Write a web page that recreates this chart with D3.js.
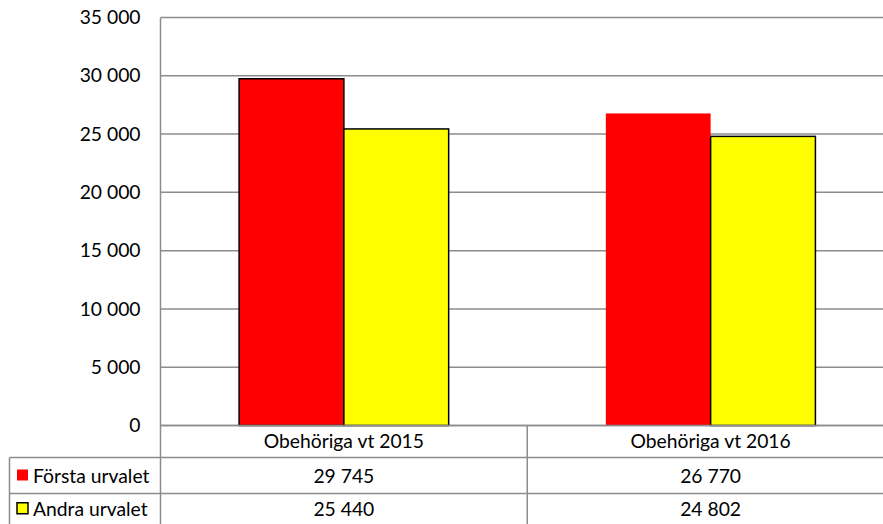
<!DOCTYPE html>
<html>
<head>
<meta charset="utf-8">
<script src="https://cdn.jsdelivr.net/npm/d3@7"></script>
<style>
body { margin:0; background:#fff; }
text { font-family: Lato, "Open Sans", sans-serif; fill:#000; }
</style>
</head>
<body>
<script>
var categories = ["Obehöriga vt 2015", "Obehöriga vt 2016"];
var seriesNames = ["Första urvalet", "Andra urvalet"];
var forsta = [29745, 26770];
var andra = [25440, 24802];
var yTicks = [0, 5000, 10000, 15000, 20000, 25000, 30000, 35000];
var colors = ["#ff0000", "#ffff00"];

var width = 883, height = 524;
var plot = {left:160.5, right:894, top:17.5, bottom:425.5};
var rowY = [425.5, 457.5, 493.5, 524];
var tableLeft = 9.5;
var fs = "19.3px";

var fmt = function(v){ return d3.format(",")(v).replace(/,/g, " "); };

var svg = d3.select("body").append("svg").attr("width", width).attr("height", height);

var y = d3.scaleLinear().domain([0, 35000]).range([plot.bottom, plot.top]);
var x = d3.scaleBand().domain(categories).range([plot.left, plot.right]);
var xs = d3.scaleBand().domain(seriesNames).range([0, x.bandwidth()]).paddingOuter(0.75);

// gridlines
svg.append("g").selectAll("line").data(yTicks).join("line")
  .attr("x1", plot.left).attr("x2", width)
  .attr("y1", function(d){ return y(d); }).attr("y2", function(d){ return y(d); })
  .style("stroke", "#8c8c8c").style("stroke-width", 1.5);

// y axis labels
var yAxis = d3.axisLeft(y).tickValues(yTicks).tickSize(0).tickPadding(20).tickFormat(fmt);
var ya = svg.append("g").attr("transform", "translate(" + plot.left + ",0)").call(yAxis);
ya.select(".domain").remove();
ya.selectAll("text").style("font-size", fs).style("font-family", "Lato, sans-serif");

// bars
var data = [forsta, andra];
data.forEach(function(vals, si){
  svg.append("g").selectAll("rect").data(vals).join("rect")
    .attr("x", function(d, i){ return x(categories[i]) + xs(seriesNames[si]); })
    .attr("width", xs.bandwidth())
    .attr("y", function(d){ return y(d); })
    .attr("height", function(d){ return y(0) - y(d); })
    .style("fill", colors[si])
    .style("stroke", function(d, i){ return (si == 0 && i == 1) ? "none" : "#000"; })
    .style("stroke-width", 1.5);
});

// table lines
var lineColor = "#8c8c8c";
svg.append("line").attr("x1", plot.left).attr("x2", width).attr("y1", plot.bottom).attr("y2", plot.bottom)
  .style("stroke", lineColor).style("stroke-width", 1.5);
[rowY[1], rowY[2]].forEach(function(yy){
  svg.append("line").attr("x1", tableLeft).attr("x2", width).attr("y1", yy).attr("y2", yy)
    .style("stroke", lineColor).style("stroke-width", 1.5);
});
svg.append("line").attr("x1", plot.left).attr("x2", plot.left).attr("y1", plot.top).attr("y2", height)
  .style("stroke", lineColor).style("stroke-width", 1.5);
svg.append("line").attr("x1", tableLeft).attr("x2", tableLeft).attr("y1", rowY[1]).attr("y2", height)
  .style("stroke", lineColor).style("stroke-width", 1.5);
svg.append("line").attr("x1", x(categories[1])).attr("x2", x(categories[1])).attr("y1", plot.bottom).attr("y2", height)
  .style("stroke", lineColor).style("stroke-width", 1.5);

// category labels
svg.append("g").selectAll("text").data(categories).join("text")
  .attr("x", function(d){ return x(d) + x.bandwidth() / 2; })
  .attr("y", 448)
  .style("text-anchor", "middle").style("font-size", fs)
  .text(function(d){ return d; });

// table values
data.forEach(function(vals, si){
  var cy = (rowY[si + 1] + rowY[si + 2]) / 2 + 7;
  svg.append("g").selectAll("text").data(vals).join("text")
    .attr("x", function(d, i){ return x(categories[i]) + x.bandwidth() / 2; })
    .attr("y", cy)
    .style("text-anchor", "middle").style("font-size", fs)
    .text(function(d){ return fmt(d); });
  svg.append("rect")
    .attr("x", 17).attr("y", cy - 13).attr("width", 11).attr("height", 11)
    .style("fill", colors[si])
    .style("stroke", si == 1 ? "#000" : "none").style("stroke-width", 1.5);
  svg.append("text").attr("x", 33).attr("y", cy)
    .style("font-size", fs)
    .text(seriesNames[si]);
});
</script>
</body>
</html>
